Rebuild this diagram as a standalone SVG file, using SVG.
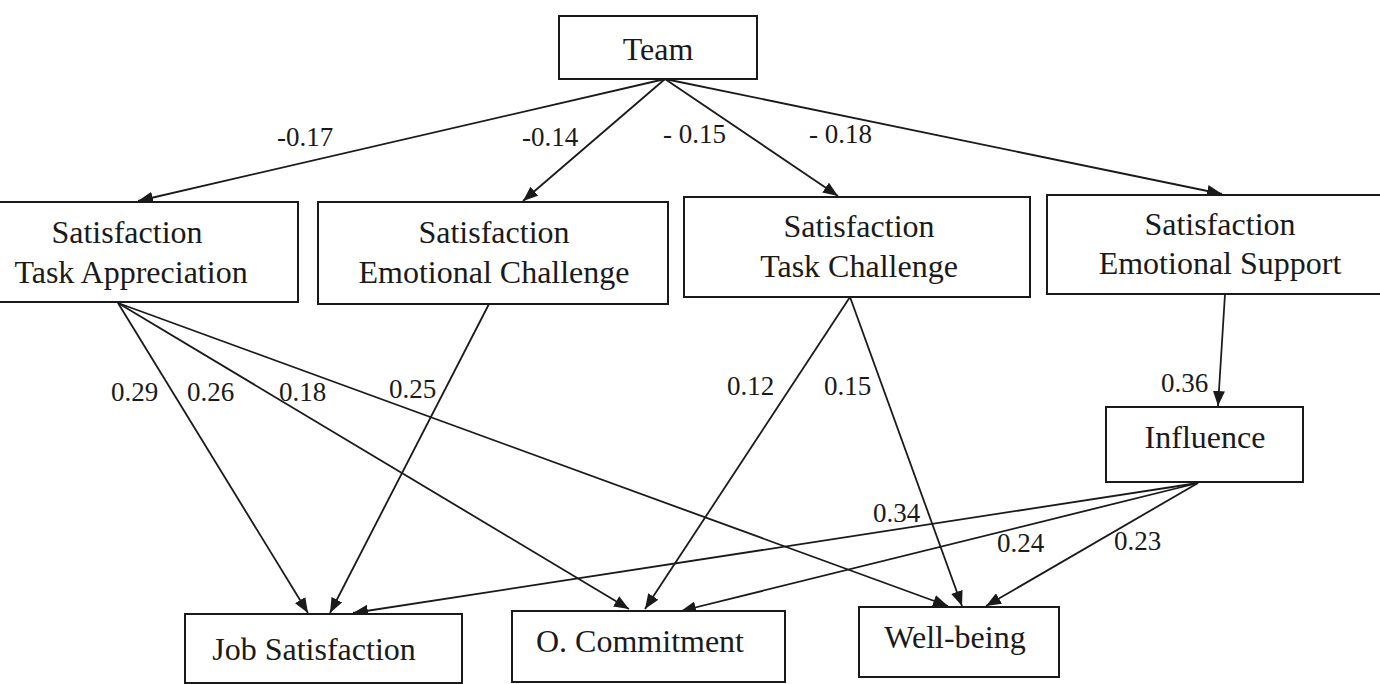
<svg xmlns="http://www.w3.org/2000/svg" width="1380" height="684" viewBox="0 0 1380 684">
  <defs>
    <marker id="arrow" markerUnits="userSpaceOnUse" markerWidth="15" markerHeight="12" refX="15" refY="6" orient="auto">
      <path d="M0,0 L15,6 L0,12 z" fill="#1a1a1a"/>
    </marker>
    <style>
      .box { fill: #ffffff; stroke: #1a1a1a; stroke-width: 2; }
      .edge { stroke: #1a1a1a; stroke-width: 1.8; fill: none; marker-end: url(#arrow); }
      text { font-family: 'Liberation Serif', 'DejaVu Serif', serif; fill: #1a1a1a; }
      .node { font-size: 32px; text-anchor: middle; }
      .coef { font-size: 27px; }
    </style>
  </defs>
  <rect width="1380" height="684" fill="#ffffff"/>

  <!-- path connectors with standardized coefficients -->
  <g id="connectors">
    <line class="edge" x1="665" y1="79" x2="138" y2="201"/>
    <line class="edge" x1="665" y1="79" x2="523" y2="201"/>
    <line class="edge" x1="665" y1="79" x2="838" y2="196"/>
    <line class="edge" x1="665" y1="79" x2="1222" y2="194"/>

    <line class="edge" x1="118" y1="303" x2="308" y2="613"/>
    <line class="edge" x1="118" y1="303" x2="629" y2="609"/>
    <line class="edge" x1="118" y1="303" x2="948" y2="606"/>
    <line class="edge" x1="489" y1="304" x2="330" y2="613"/>

    <line class="edge" x1="850" y1="297" x2="645" y2="609"/>
    <line class="edge" x1="850" y1="297" x2="962" y2="606"/>

    <line class="edge" x1="1225" y1="294" x2="1218" y2="406"/>

    <line class="edge" x1="1198" y1="483" x2="353" y2="613"/>
    <line class="edge" x1="1198" y1="483" x2="681" y2="611"/>
    <line class="edge" x1="1198" y1="483" x2="986" y2="606"/>

    <text class="coef" font-family="Liberation Serif, serif" x="277" y="146">-0.17</text>
    <text class="coef" font-family="Liberation Serif, serif" x="522" y="146">-0.14</text>
    <text class="coef" font-family="Liberation Serif, serif" x="663" y="143">- 0.15</text>
    <text class="coef" font-family="Liberation Serif, serif" x="809" y="143">- 0.18</text>

    <text class="coef" font-family="Liberation Serif, serif" x="111" y="401">0.29</text>
    <text class="coef" font-family="Liberation Serif, serif" x="187" y="401">0.26</text>
    <text class="coef" font-family="Liberation Serif, serif" x="279" y="401">0.18</text>
    <text class="coef" font-family="Liberation Serif, serif" x="389" y="398">0.25</text>
    <text class="coef" font-family="Liberation Serif, serif" x="727" y="395">0.12</text>
    <text class="coef" font-family="Liberation Serif, serif" x="824" y="395">0.15</text>
    <text class="coef" font-family="Liberation Serif, serif" x="1161" y="392">0.36</text>
    <text class="coef" font-family="Liberation Serif, serif" x="873" y="522">0.34</text>
    <text class="coef" font-family="Liberation Serif, serif" x="997" y="552">0.24</text>
    <text class="coef" font-family="Liberation Serif, serif" x="1114" y="550">0.23</text>
  </g>

  <g id="team">
    <rect class="box" x="559" y="16" width="198" height="63"/>
    <text class="node" font-family="Liberation Serif, serif" x="658" y="60">Team</text>
  </g>

  <g id="sat-task-appreciation">
    <rect class="box" x="-10" y="202" width="308" height="100"/>
    <text class="node" font-family="Liberation Serif, serif" x="127" y="243">Satisfaction</text>
    <text class="node" font-family="Liberation Serif, serif" x="131" y="283">Task Appreciation</text>
  </g>

  <g id="sat-emotional-challenge">
    <rect class="box" x="318" y="202" width="350" height="102"/>
    <text class="node" font-family="Liberation Serif, serif" x="494" y="243">Satisfaction</text>
    <text class="node" font-family="Liberation Serif, serif" x="494" y="283">Emotional Challenge</text>
  </g>

  <g id="sat-task-challenge">
    <rect class="box" x="684" y="197" width="346" height="100"/>
    <text class="node" font-family="Liberation Serif, serif" x="859" y="237">Satisfaction</text>
    <text class="node" font-family="Liberation Serif, serif" x="859" y="277">Task Challenge</text>
  </g>

  <g id="sat-emotional-support">
    <rect class="box" x="1047" y="195" width="348" height="99"/>
    <text class="node" font-family="Liberation Serif, serif" x="1220" y="235">Satisfaction</text>
    <text class="node" font-family="Liberation Serif, serif" x="1220" y="274">Emotional Support</text>
  </g>

  <g id="influence">
    <rect class="box" x="1106" y="407" width="197" height="75"/>
    <text class="node" font-family="Liberation Serif, serif" x="1205" y="448">Influence</text>
  </g>

  <g id="job-satisfaction">
    <rect class="box" x="185" y="614" width="277" height="69"/>
    <text class="node" font-family="Liberation Serif, serif" x="314" y="660">Job Satisfaction</text>
  </g>

  <g id="o-commitment">
    <rect class="box" x="512" y="611" width="273" height="71"/>
    <text class="node" font-family="Liberation Serif, serif" x="640" y="652">O. Commitment</text>
  </g>

  <g id="well-being">
    <rect class="box" x="859" y="607" width="200" height="70"/>
    <text class="node" font-family="Liberation Serif, serif" x="955" y="648">Well-being</text>
  </g>
</svg>
